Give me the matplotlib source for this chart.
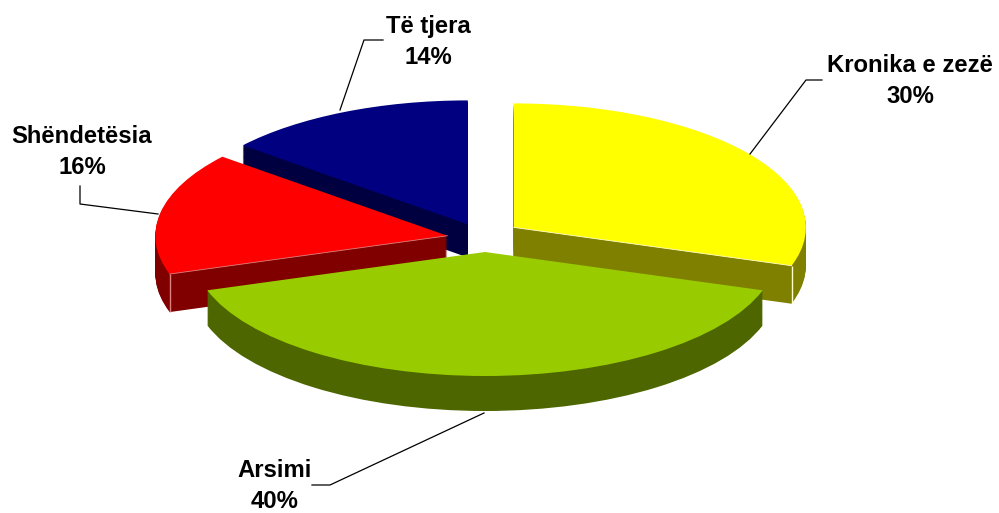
import numpy as np
from matplotlib import pyplot as plt

plt.rcParams['font.family'] = ['Liberation Sans', 'DejaVu Sans']

# data
names = ['Kronika e zezë', 'Arsimi', 'Shëndetësia', 'Të tjera']
values = [30, 40, 16, 14]

# look of the chart
top_colors = ['#ffff00', '#99cc00', '#ff0000', '#000080']
side_colors = ['#808000', '#4d6600', '#800000', '#000040']
edge_colors = ['#ffffcc', None, '#e08080', None]
explode = [0.118, 0.121, 0.14, 0.139]
stack_order = [2, 4, 3, 1]  # navy at the back, green in front
nudges = [(1, -1), (0, 0), (2.5, 2), (0, 3)]  # px, the original is a bit in perspective
depths = [38, 35, 38, 33]  # px, wall height of each slice

W, H = 999, 513
rx, ry = 292.0, 124.0
cx, cy = 485.0, 237.0
n_layers = 38

fig = plt.figure(figsize=(W / 100, H / 100), dpi=100, facecolor='white')

# pie axes, 1 data unit = one radius, so the circle becomes a flat ellipse
ax = fig.add_axes([0, 0, 1, 1])


def draw_layer(frac, colors):
    wedges, _ = ax.pie(values, explode=explode, colors=colors, startangle=90,
                       counterclock=False, radius=1,
                       center=(cx / rx, (H - cy) / ry),
                       wedgeprops={'linewidth': 0})
    for w, z, nudge, d in zip(wedges, stack_order, nudges, depths):
        x0, y0 = w.center
        w.set_center((x0 + nudge[0] / rx, y0 - (nudge[1] + frac * d) / ry))
        w.set_zorder(z)
    return wedges


for i in range(n_layers, 0, -1):
    draw_layer(i / n_layers, side_colors)
tops = draw_layer(0, top_colors)

# thin light lines on the front walls
for w, col, d, z in zip(tops, edge_colors, depths, stack_order):
    if col is None:
        continue
    x0, y0 = w.center
    # the front corner is the end of the slice that lies lowest
    ang = min(np.radians(w.theta1), np.radians(w.theta2), key=np.sin)
    ex, ey = x0 + np.cos(ang), y0 + np.sin(ang)
    ax.plot([ex, ex], [ey, ey - d / ry], color=col, lw=1, zorder=z, solid_capstyle='butt')
    ax.plot([x0, ex], [y0, ey], color=col, lw=0.6, zorder=z)

ax.set_aspect('auto')
ax.set_xlim(0, W / rx)
ax.set_ylim(0, H / ry)
ax.axis('off')

# labels and leader lines in pixel coordinates
over = fig.add_axes([0, 0, 1, 1])
over.set_xlim(0, W)
over.set_ylim(H, 0)
over.axis('off')
over.patch.set_alpha(0)

label_pos = [(910, 81), (275, 486), (82, 152), (428, 42)]
leaders = [
    ([750, 806, 822], [154, 80, 80]),
    ([484, 330, 312], [413, 485, 485]),
    ([158, 80, 80], [214, 204, 186]),
    ([340, 364, 383], [110, 40, 40]),
]

for name, val, pos, (lx, ly) in zip(names, values, label_pos, leaders):
    over.plot(lx, ly, color='black', lw=0.9)
    over.text(pos[0], pos[1], '%s\n%d%%' % (name, val), ha='center', va='center',
              fontsize=17.2, fontweight='bold', color='black', linespacing=1.43)

fig.savefig('out.png', dpi=100)
